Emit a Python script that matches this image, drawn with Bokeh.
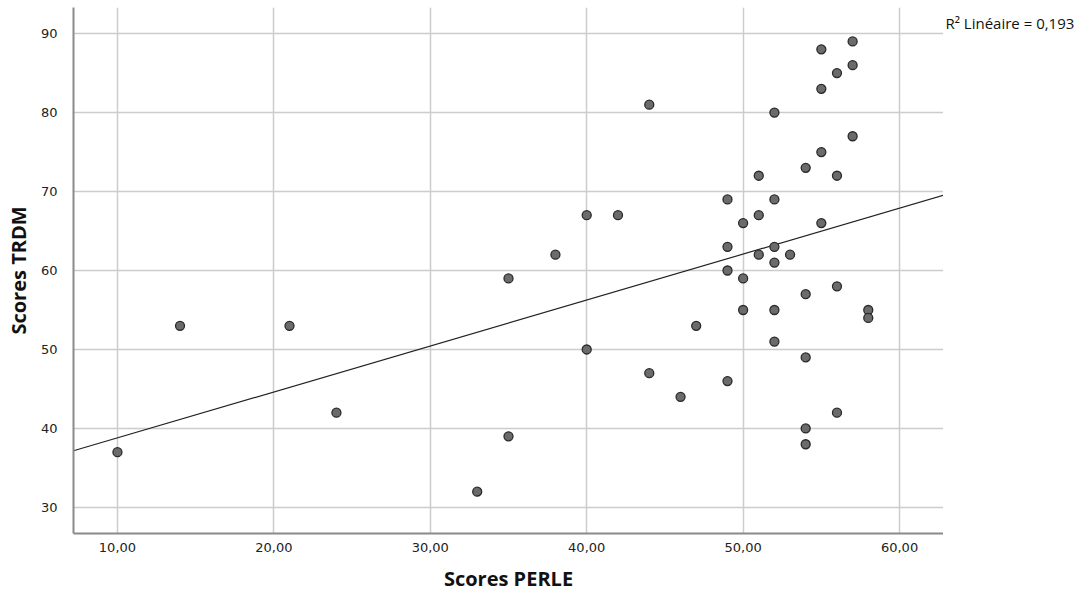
import numpy as np
from bokeh.plotting import figure
from bokeh.layouts import row
from bokeh.models import Range1d, FixedTicker, CustomJSTickFormatter
from bokeh.core.properties import value
from bokeh.embed import file_html
from bokeh.resources import INLINE

# Data
perle = [10, 14, 21, 24, 33, 35, 35, 38, 40, 40, 42, 44, 44, 46, 47,
         49, 49, 49, 49, 50, 50, 50, 51, 51, 51, 52, 52, 52, 52, 52, 52,
         53, 54, 54, 54, 54, 54, 55, 55, 55, 55, 56, 56, 56, 56, 57, 57, 57, 58, 58]
trdm = [37, 53, 53, 42, 32, 59, 39, 62, 67, 50, 67, 81, 47, 44, 53,
        69, 63, 60, 46, 66, 59, 55, 72, 67, 62, 80, 69, 63, 61, 55, 51,
        62, 73, 57, 49, 40, 38, 88, 83, 75, 66, 85, 72, 58, 42, 89, 86, 77, 55, 54]
x_ticks = [10, 20, 30, 40, 50, 60]
y_ticks = [30, 40, 50, 60, 70, 80, 90]
r2_text = ["R\u00b2 Lin\u00e9aire = 0,193"]
x_title = "Scores PERLE"
y_title = "Scores TRDM"

H = 595
TOP = 7
BOTTOM = 62
W1 = 943
W2 = 1085 - W1
xr = Range1d(7.19, 62.81)
yr = Range1d(26.7, 93.3)

p = figure(width=W1, height=H, x_range=xr, y_range=yr,
           output_backend="svg", toolbar_location=None,
           min_border_left=73, min_border_right=0,
           min_border_top=TOP, min_border_bottom=BOTTOM)
p.outline_line_color = None

for g in (p.xgrid, p.ygrid):
    g.grid_line_color = "#cccccc"
    g.grid_line_width = 1.5
p.xgrid.ticker = FixedTicker(ticks=x_ticks)
p.ygrid.ticker = FixedTicker(ticks=y_ticks)

xa = p.xaxis[0]
ya = p.yaxis[0]
xa.ticker = FixedTicker(ticks=x_ticks)
ya.ticker = FixedTicker(ticks=y_ticks)
xa.formatter = CustomJSTickFormatter(code="return tick.toFixed(2).replace('.', ',');")
ya.formatter = CustomJSTickFormatter(code="return tick.toFixed(0);")
for a in (xa, ya):
    a.axis_line_color = "#8a8a8a"
    a.axis_line_width = 2
    a.major_tick_line_color = None
    a.minor_tick_line_color = None
    a.major_label_text_font = "DejaVu Sans"
    a.major_label_text_font_size = "13px"
    a.major_label_text_color = "#222222"
    a.axis_label_text_font = "Open Sans"
    a.axis_label_text_font_style = "bold"
    a.axis_label_text_font_size = "20px"
    a.axis_label_text_color = "#111111"
xa.axis_label = x_title
ya.axis_label = y_title
xa.major_label_standoff = 3
ya.major_label_standoff = 10
xa.axis_label_standoff = 10
ya.axis_label_standoff = 6

# Regression line computed from the data
slope, intercept = np.polyfit(perle, trdm, 1)
lx = np.array([xr.start, xr.end])
p.line(lx, intercept + slope * lx, line_color="#222222", line_width=1.2)

p.scatter(perle, trdm, size=9, fill_color="#6b6b6b", line_color="#2a2a2a", line_width=1.3)

# Side panel holding the R² annotation
p2 = figure(width=W2, height=H, x_range=Range1d(0, W2), y_range=yr,
            output_backend="svg", toolbar_location=None,
            min_border_left=0, min_border_right=0,
            min_border_top=TOP, min_border_bottom=BOTTOM)
p2.axis.visible = False
p2.grid.visible = False
p2.outline_line_color = None
p2.text(x=[2], y=[91.4], text=r2_text, text_font=value("Open Sans"),
        text_font_size="15px", text_color="#111111", text_baseline="alphabetic")

layout = row(p, p2)
open("out.html", "w").write(file_html(layout, INLINE))
